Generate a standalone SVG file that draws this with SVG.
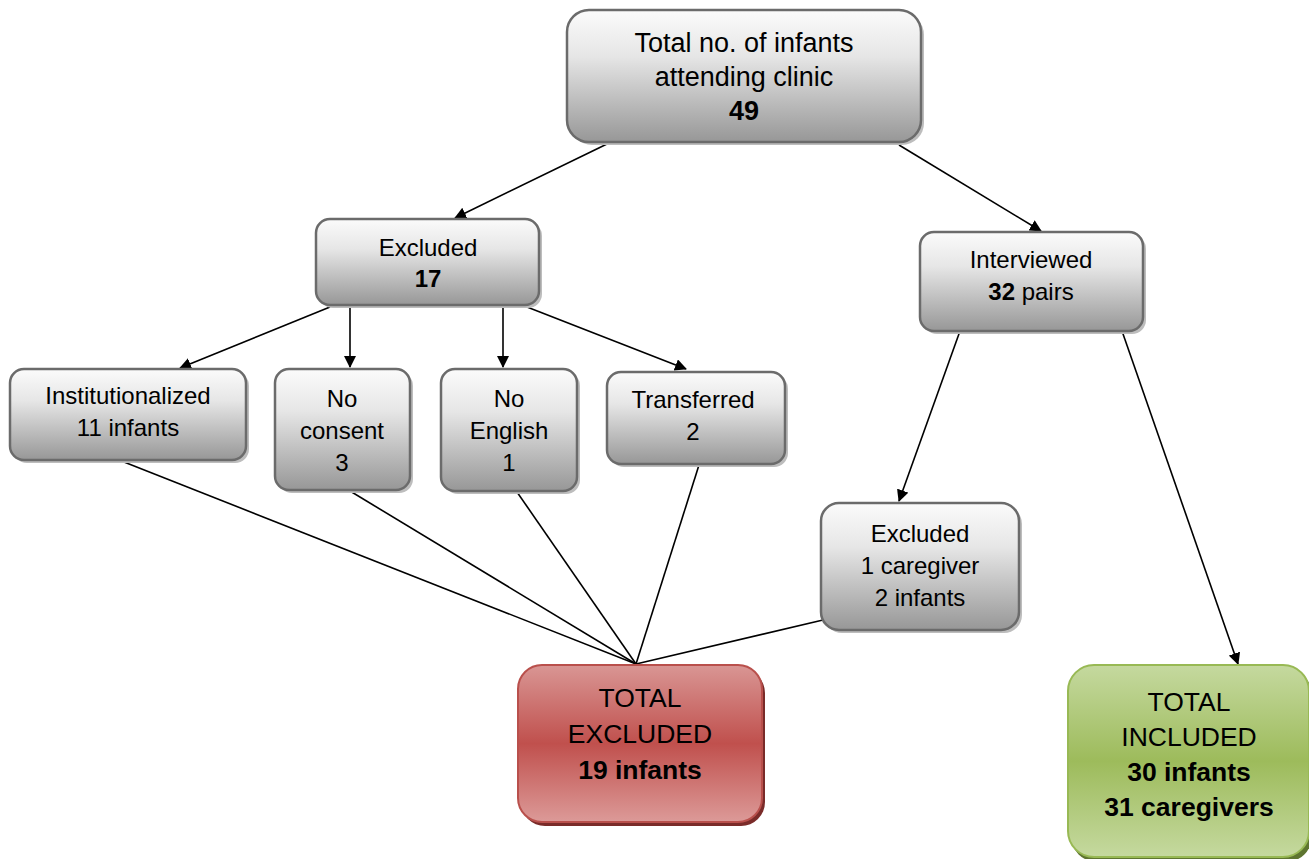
<svg xmlns="http://www.w3.org/2000/svg" width="1309" height="859" viewBox="0 0 1309 859">
<defs>
<linearGradient id="gGray" x1="0" y1="0" x2="0" y2="1"><stop offset="0" stop-color="#fbfbfb"/><stop offset="0.35" stop-color="#e6e6e6"/><stop offset="1" stop-color="#979797"/></linearGradient>
<linearGradient id="gRed" x1="0" y1="0" x2="0" y2="1"><stop offset="0" stop-color="#d99694"/><stop offset="0.5" stop-color="#c0504d"/><stop offset="1" stop-color="#dc9a98"/></linearGradient>
<linearGradient id="gGreen" x1="0" y1="0" x2="0" y2="1"><stop offset="0" stop-color="#c5d99f"/><stop offset="0.5" stop-color="#9dbb5b"/><stop offset="1" stop-color="#c5d99f"/></linearGradient>
<marker id="arr" viewBox="0 0 12 12" refX="11" refY="6" markerWidth="12" markerHeight="12" markerUnits="userSpaceOnUse" orient="auto"><path d="M0,0 L12,6 L0,12 Z" fill="#000"/></marker>
</defs>
<style>
.box{fill:url(#gGray);stroke:#6b6b6b;stroke-width:2.5}
.sh{fill:#bdbdbd}
.t{font-family:"Liberation Sans",Arial,sans-serif;font-size:24px;fill:#000;text-anchor:middle}
.big{font-size:27px}
.tot{font-size:26.5px}
.b{font-weight:bold}
.c{stroke:#000;stroke-width:1.6;fill:none}
.a{marker-end:url(#arr)}
</style>
<g id="connectors">
<line class="c a" x1="607" y1="144" x2="455" y2="218"/>
<line class="c a" x1="899" y1="145" x2="1041" y2="231"/>
<line class="c a" x1="330" y1="307" x2="180" y2="368"/>
<line class="c a" x1="350" y1="307" x2="350" y2="367"/>
<line class="c a" x1="503" y1="307" x2="503" y2="367"/>
<line class="c a" x1="527" y1="307" x2="686" y2="369"/>
<line class="c a" x1="960" y1="331" x2="899" y2="501"/>
<line class="c a" x1="1122" y1="331" x2="1238" y2="664"/>
<line class="c" x1="124" y1="462" x2="636" y2="664"/>
<line class="c" x1="350" y1="491" x2="636" y2="664"/>
<line class="c" x1="517" y1="492" x2="636" y2="664"/>
<line class="c" x1="699" y1="465" x2="636" y2="664"/>
<line class="c" x1="823" y1="620" x2="636" y2="664"/>
</g>
<g id="n-total">
<rect class="sh" x="570" y="13" width="354" height="132" rx="22"/>
<rect class="box" x="567" y="10" width="354" height="132" rx="22"/>
<text class="t big" x="744" y="52">Total no. of infants</text>
<text class="t big" x="744" y="86">attending clinic</text>
<text class="t big b" x="744" y="120">49</text>
</g>
<g id="n-excluded">
<rect class="sh" x="319" y="222" width="223" height="86" rx="14"/>
<rect class="box" x="316" y="219" width="223" height="86" rx="14"/>
<text class="t" x="428" y="256">Excluded</text>
<text class="t b" x="428" y="287">17</text>
</g>
<g id="n-interviewed">
<rect class="sh" x="923" y="235" width="223" height="99" rx="14"/>
<rect class="box" x="920" y="232" width="223" height="99" rx="14"/>
<text class="t" x="1031" y="268">Interviewed</text>
<text class="t" x="1031" y="300"><tspan class="b">32</tspan> pairs</text>
</g>
<g id="n-inst">
<rect class="sh" x="13" y="372" width="236" height="91" rx="14"/>
<rect class="box" x="10" y="369" width="236" height="91" rx="14"/>
<text class="t" x="128" y="404">Institutionalized</text>
<text class="t" x="128" y="436">11 infants</text>
</g>
<g id="n-noconsent">
<rect class="sh" x="278" y="372" width="135" height="121" rx="14"/>
<rect class="box" x="275" y="369" width="135" height="121" rx="14"/>
<text class="t" x="342" y="407">No</text>
<text class="t" x="342" y="439">consent</text>
<text class="t" x="342" y="471">3</text>
</g>
<g id="n-noenglish">
<rect class="sh" x="444" y="372" width="136" height="122" rx="14"/>
<rect class="box" x="441" y="369" width="136" height="122" rx="14"/>
<text class="t" x="509" y="407">No</text>
<text class="t" x="509" y="439">English</text>
<text class="t" x="509" y="471">1</text>
</g>
<g id="n-transferred">
<rect class="sh" x="610" y="375" width="178" height="92" rx="14"/>
<rect class="box" x="607" y="372" width="178" height="92" rx="14"/>
<text class="t" x="693" y="408">Transferred</text>
<text class="t" x="693" y="440">2</text>
</g>
<g id="n-excl2">
<rect class="sh" x="824" y="506" width="198" height="127" rx="18"/>
<rect class="box" x="821" y="503" width="198" height="127" rx="18"/>
<text class="t" x="920" y="542">Excluded</text>
<text class="t" x="920" y="574">1 caregiver</text>
<text class="t" x="920" y="606">2 infants</text>
</g>
<g id="n-totalexcl">
<rect x="521" y="669" width="244" height="157" rx="24" fill="#7a2b29"/>
<rect x="518" y="665" width="244" height="157" rx="24" fill="url(#gRed)" stroke="#b9504c" stroke-width="2"/>
<text class="t tot" x="640" y="707">TOTAL</text>
<text class="t tot" x="640" y="743">EXCLUDED</text>
<text class="t tot b" x="640" y="779">19 infants</text>
</g>
<g id="n-totalincl">
<rect x="1071" y="669" width="241" height="193" rx="26" fill="#5e7530"/>
<rect x="1068" y="665" width="241" height="192" rx="26" fill="url(#gGreen)" stroke="#98b954" stroke-width="2"/>
<text class="t tot" x="1189" y="711">TOTAL</text>
<text class="t tot" x="1189" y="746">INCLUDED</text>
<text class="t tot b" x="1189" y="781">30 infants</text>
<text class="t tot b" x="1189" y="816">31 caregivers</text>
</g>
</svg>
